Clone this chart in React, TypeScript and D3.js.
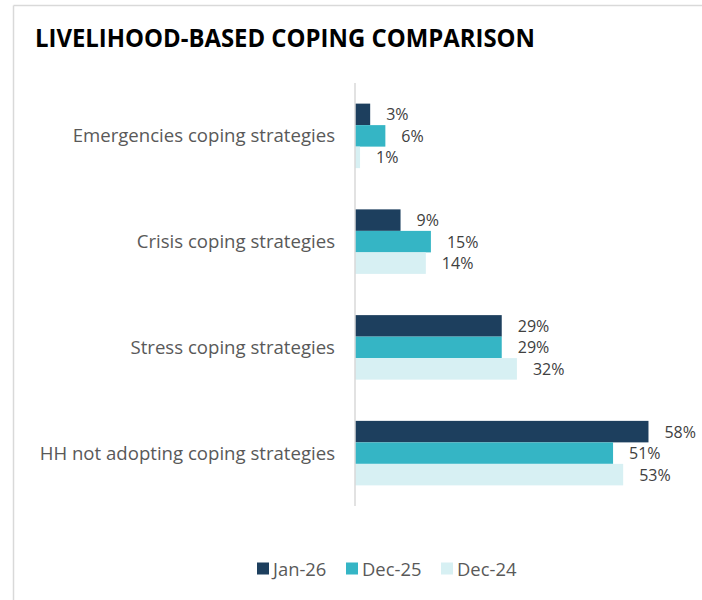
import React from "react";
import * as d3 from "d3";

const categories = [
  "Emergencies coping strategies",
  "Crisis coping strategies",
  "Stress coping strategies",
  "HH not adopting coping strategies",
];
const seriesNames = ["Jan-26", "Dec-25", "Dec-24"];
const jan26 = [0.03, 0.09, 0.29, 0.58];
const dec25 = [0.06, 0.15, 0.29, 0.51];
const dec24 = [0.01, 0.14, 0.32, 0.53];
const seriesValues = [jan26, dec25, dec24];
const colors = ["#1d3f5e", "#35b5c5", "#d7f0f3"];

const W = 702;
const H = 600;

export default function App() {
  const axisX = 355;
  const y = d3.scaleBand<string>().domain(categories).range([83, 506]).paddingInner(0.39).paddingOuter(0.195);
  const x = d3.scaleLinear().domain([0, 0.6]).range([axisX, axisX + 303.6]);
  const inner = d3.scaleBand<string>().domain(seriesNames).range([0, y.bandwidth()]);
  const fmt = d3.format(".0%");

  const legendItems = [
    { sq: 257, tx: 273 },
    { sq: 346, tx: 362 },
    { sq: 441, tx: 457 },
  ];

  return (
    <svg width={W} height={H} style={{ position: "absolute", left: 0, top: 0, fontFamily: "'Open Sans', sans-serif" }}>
      <rect x={0} y={0} width={W} height={H} fill="#fff" />
      <line x1={13.5} y1={5.5} x2={W} y2={5.5} stroke="#d9d9d9" strokeWidth={1.5} />
      <line x1={13.5} y1={5.5} x2={13.5} y2={H} stroke="#d9d9d9" strokeWidth={1.5} />
      <text x={35} y={47} fontSize={25.5} fontWeight={700} fill="#000" textLength={500} lengthAdjust="spacingAndGlyphs">
        LIVELIHOOD-BASED COPING COMPARISON
      </text>
      {categories.map((c, ci) => (
        <g key={c}>
          <text
            x={335}
            y={(y(c) as number) + y.bandwidth() / 2 - 1}
            textAnchor="end"
            dominantBaseline="central"
            fontSize={18.6}
            fill="#595959"
          >
            {c}
          </text>
          {seriesNames.map((s, si) => {
            const v = seriesValues[si][ci];
            const by = (y(c) as number) + (inner(s) as number);
            return (
              <g key={s}>
                <rect x={x(0)} y={by} width={x(v) - x(0)} height={inner.bandwidth()} fill={colors[si]} />
                <text
                  x={x(v) + 16}
                  y={by + inner.bandwidth() / 2}
                  dominantBaseline="central"
                  fontSize={16}
                  fill="#404040"
                >
                  {fmt(v)}
                </text>
              </g>
            );
          })}
        </g>
      ))}
      <line x1={axisX} y1={83} x2={axisX} y2={506} stroke="#d9d9d9" strokeWidth={1.5} />
      {seriesNames.map((s, i) => (
        <g key={s}>
          <rect x={legendItems[i].sq} y={562.5} width={12} height={12} fill={colors[i]} />
          <text x={legendItems[i].tx} y={568} dominantBaseline="central" fontSize={18.4} fill="#595959">
            {s}
          </text>
        </g>
      ))}
    </svg>
  );
}
